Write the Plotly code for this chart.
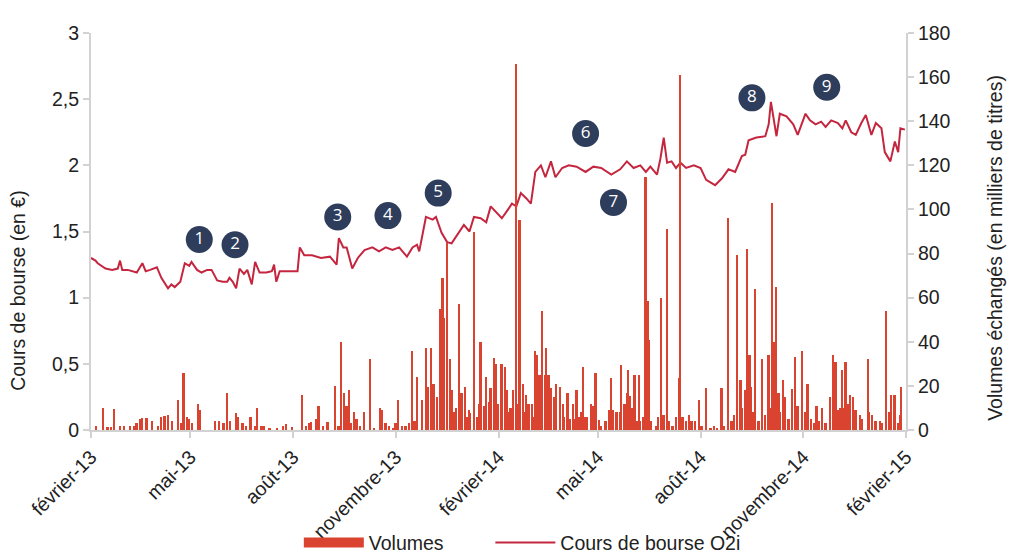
import pandas as pd
import plotly.graph_objects as go

# ---------------- data ----------------
start_date = "2013-02-01"
end_date = "2015-02-01"

# share price (EUR) - day offsets from 1 Feb 2013
price_days = [0, 4, 6, 13, 19, 24, 26, 28, 33, 41,
              46, 49, 53, 59, 63, 69, 72, 75, 80, 84,
              88, 90, 95, 99, 104, 108, 113, 118, 122, 124,
              127, 130, 133, 137, 140, 144, 147, 151, 157, 162,
              164, 166, 169, 178, 185, 187, 191, 198, 206, 214,
              220, 222, 226, 229, 234, 239, 245, 252, 258, 264,
              270, 276, 283, 288, 292, 294, 300, 306, 309, 314,
              319, 323, 328, 334, 339, 343, 349, 354, 358, 364,
              368, 373, 377, 381, 385, 390, 394, 398, 403, 407,
              412, 416, 422, 428, 435, 443, 450, 457, 466, 474,
              480, 486, 492, 497, 501, 507, 510, 513, 516, 520,
              524, 528, 533, 540, 546, 551, 559, 565, 571, 577,
              583, 586, 589, 596, 604, 607, 609, 614, 617, 623,
              629, 633, 640, 644, 649, 654, 658, 663, 669, 673,
              676, 681, 685, 690, 694, 699, 703, 708, 711, 716,
              720, 723, 725, 729]
price_values = [1.30, 1.28, 1.26, 1.22, 1.21, 1.22, 1.28, 1.21, 1.21, 1.19,
                1.26, 1.20, 1.21, 1.23, 1.15, 1.07, 1.10, 1.08, 1.12, 1.26,
                1.24, 1.27, 1.21, 1.19, 1.21, 1.21, 1.13, 1.12, 1.12, 1.15,
                1.12, 1.07, 1.22, 1.18, 1.21, 1.10, 1.27, 1.19, 1.19, 1.20,
                1.25, 1.12, 1.20, 1.20, 1.20, 1.38, 1.32, 1.32, 1.30, 1.31,
                1.25, 1.45, 1.38, 1.38, 1.22, 1.30, 1.36, 1.38, 1.35, 1.38,
                1.36, 1.38, 1.31, 1.38, 1.40, 1.35, 1.61, 1.59, 1.61, 1.49,
                1.42, 1.41, 1.47, 1.55, 1.50, 1.61, 1.60, 1.57, 1.69, 1.64,
                1.60, 1.66, 1.71, 1.69, 1.79, 1.75, 1.71, 1.95, 2.00, 1.91,
                2.03, 1.91, 1.98, 2.00, 1.99, 1.95, 1.99, 1.98, 1.93, 1.97,
                2.03, 1.98, 2.00, 1.95, 1.99, 1.93, 2.05, 2.21, 2.02, 2.03,
                1.98, 2.02, 1.98, 2.00, 1.98, 1.89, 1.85, 1.90, 1.97, 1.95,
                2.07, 2.08, 2.19, 2.21, 2.22, 2.31, 2.48, 2.22, 2.39, 2.37,
                2.31, 2.23, 2.39, 2.34, 2.31, 2.33, 2.29, 2.34, 2.32, 2.28,
                2.34, 2.25, 2.23, 2.32, 2.38, 2.23, 2.32, 2.28, 2.10, 2.03,
                2.18, 2.10, 2.28, 2.27]

# traded volumes (thousands of shares) - day offsets from 1 Feb 2013
volume_days = [5, 11, 15, 18, 21, 26, 30, 35, 39, 41,
               44, 46, 50, 55, 60, 63, 66, 69, 73, 78,
               81, 83, 86, 88, 91, 96, 98, 111, 115, 119,
               122, 125, 130, 132, 136, 139, 143, 147, 149, 153,
               155, 160, 167, 172, 175, 180, 189, 193, 196, 197,
               202, 204, 208, 212, 219, 222, 224, 227, 229, 231,
               233, 236, 238, 241, 245, 250, 254, 259, 261, 264,
               267, 271, 273, 275, 279, 282, 285, 288, 290, 292,
               297, 300, 302, 305, 307, 310, 313, 315, 316, 319,
               322, 323, 325, 327, 330, 332, 335, 337, 339, 340,
               343, 346, 348, 349, 352, 354, 357, 358, 361, 363,
               365, 368, 371, 373, 374, 376, 378, 381, 382, 384,
               387, 389, 390, 392, 395, 397, 398, 400, 402, 404,
               407, 408, 410, 412, 415, 417, 420, 423, 424, 427,
               429, 432, 433, 435, 437, 439, 441, 443, 444, 448,
               450, 452, 455, 457, 461, 464, 466, 468, 471, 474,
               475, 478, 480, 481, 483, 485, 487, 489, 491, 492,
               495, 497, 499, 500, 502, 506, 508, 511, 513, 516,
               518, 521, 524, 527, 528, 530, 533, 536, 538, 541,
               545, 547, 551, 555, 558, 561, 565, 567, 571, 574,
               576, 579, 582, 583, 586, 588, 590, 591, 593, 595,
               598, 601, 604, 607, 608, 610, 612, 614, 616, 617,
               620, 622, 625, 628, 631, 633, 637, 640, 642, 645,
               648, 650, 652, 655, 658, 662, 665, 667, 669, 671,
               673, 675, 676, 678, 680, 683, 685, 689, 691, 696,
               697, 700, 703, 707, 709, 712, 715, 717, 720, 723,
               725, 726]
volume_values = [2, 10, 1.5, 1.5, 9.5, 2, 2, 2, 2, 3,
                 5, 5.5, 5.5, 4, 2, 6, 6.5, 7, 4, 13.6,
                 3, 26, 6, 5, 3, 12, 9, 4, 4, 3,
                 17, 4, 7.5, 6, 3, 2, 6, 2, 10, 2,
                 2, 1, 1, 2, 2.5, 1.5, 16, 2, 3, 3.5,
                 5, 11, 2, 3.5, 20, 2, 40, 17, 11, 18,
                 3, 8, 5, 2, 8, 32, 1, 10, 9, 3,
                 2, 1, 3, 13.6, 2, 2, 3, 36, 4, 24,
                 13.6, 37, 19.5, 37, 21, 15, 55, 69, 51, 85,
                 32, 18, 8, 10, 57, 17, 19.5, 6, 9, 7.5,
                 90, 6, 12, 40, 11, 24, 12.7, 19, 32.6, 30,
                 12, 30, 28.6, 18, 8, 10, 18, 166, 12, 95,
                 21, 8, 16, 12, 12, 6, 36, 34, 25, 54,
                 25, 37, 25, 19, 15, 21, 19.5, 12, 6, 17,
                 5, 12, 5, 18, 6, 8, 28.6, 6, 6, 12,
                 11, 26, 4.5, 2, 4, 9, 23.6, 9, 8, 8,
                 29.5, 12, 17, 27, 15.5, 10, 25, 4, 25, 4,
                 6, 114.5, 58.6, 41, 4, 2, 6, 60, 7, 91,
                 4, 2, 6, 23.6, 161, 6, 4, 7, 4, 4,
                 13.6, 2, 19, 1, 2, 1, 19, 2, 96, 4,
                 7, 79.5, 22.7, 10, 18, 82, 34, 19.5, 8, 64,
                 4, 32, 7, 34, 10, 103, 40, 65, 17, 8,
                 22.7, 15, 5, 18.6, 33, 11, 36, 8, 21, 5,
                 3, 11, 4, 10, 3, 15, 34, 31, 9, 10,
                 27, 10, 31, 12, 16, 15, 9, 7, 5, 32,
                 8, 7, 4, 4, 3, 54, 8, 16, 16, 3,
                 7, 19.5]

# numbered event markers (day offset, price level)
event_labels = ["1", "2", "3", "4", "5", "6", "7", "8", "9"]
event_days = [97, 129, 221, 266, 311, 443, 468, 592, 659]
event_levels = [1.44, 1.40, 1.61, 1.62, 1.79, 2.24, 1.72, 2.51, 2.59]

tick_dates = ["2013-02-01", "2013-05-01", "2013-08-01", "2013-11-01", "2014-02-01",
              "2014-05-01", "2014-08-01", "2014-11-01", "2015-02-01"]
tick_labels = ["février-13", "mai-13", "août-13", "novembre-13", "février-14",
               "mai-14", "août-14", "novembre-14", "février-15"]

# ---------------- styling ----------------
FONT = "Liberation Sans Narrow, Arial Narrow, Liberation Sans, Arial, sans-serif"
LINE_COLOR = "#c4263f"
BAR_COLOR = "#d9432f"
EVENT_COLOR = "#2e3d5b"
AXIS_COLOR = "#d2d2d2"
TXT = "#222222"

t0 = pd.Timestamp(start_date)
price_dates = t0 + pd.to_timedelta(price_days, unit="D")
volume_dates = t0 + pd.to_timedelta(volume_days, unit="D")
event_dates = t0 + pd.to_timedelta(event_days, unit="D")

fig = go.Figure()

# legend-only entry for volumes (wide rectangle look)
fig.add_trace(go.Scatter(x=[None], y=[None], mode="lines", name="Volumes",
                         line=dict(color=BAR_COLOR, width=11), yaxis="y2",
                         legend="legend"))

fig.add_trace(go.Bar(x=volume_dates, y=volume_values, yaxis="y2", name="Volumes",
                     marker=dict(color=BAR_COLOR, line=dict(width=0)),
                     width=1.6 * 86400000, showlegend=False))

fig.add_trace(go.Scatter(x=price_dates, y=price_values, mode="lines",
                         name="Cours de bourse O2i",
                         line=dict(color=LINE_COLOR, width=2), legend="legend2"))

fig.add_trace(go.Scatter(x=event_dates, y=event_levels, mode="markers+text",
                         text=event_labels, textposition="middle center",
                         textfont=dict(family="Open Sans, Liberation Sans, sans-serif",
                                       size=17, color="white"),
                         marker=dict(size=27, color=EVENT_COLOR),
                         showlegend=False, hoverinfo="skip"))

axis_common = dict(showgrid=False, zeroline=False, showline=True, linecolor=AXIS_COLOR,
                   linewidth=2, ticks="outside", ticklen=6, tickcolor=AXIS_COLOR,
                   tickwidth=1.5, tickfont=dict(size=19.5, color=TXT),
                   automargin=False)

legend_common = dict(orientation="h", yref="container", y=0.02, yanchor="middle",
                     xanchor="left", font=dict(size=19.5, color=TXT),
                     itemwidth=60, bgcolor="rgba(0,0,0,0)")

fig.update_layout(
    width=1009, height=554,
    margin=dict(l=91, r=103, t=33, b=124, autoexpand=False),
    paper_bgcolor="white", plot_bgcolor="white",
    separators=", ",
    font=dict(family=FONT, size=19.5, color=TXT),
    bargap=0,
    legend=dict(x=0.255, **legend_common),
    legend2=dict(x=0.49, **legend_common),
    xaxis=dict(type="date", range=[start_date, end_date], tickmode="array",
               tickvals=tick_dates, ticktext=tick_labels, tickangle=-45, **axis_common),
    yaxis=dict(range=[0, 3], dtick=0.5, tick0=0, **axis_common),
    yaxis2=dict(range=[0, 180], dtick=20, tick0=0, overlaying="y", side="right",
                **axis_common),
    annotations=[
        dict(text="Cours de bourse (en €)", xref="paper", yref="paper",
             x=-0.0896, y=0.353, xanchor="center", yanchor="middle",
             textangle=-90, showarrow=False, font=dict(size=19.5, color=TXT)),
        dict(text="Volumes échangés (en milliers de titres)", xref="paper", yref="paper",
             x=1.110, y=0.458, xanchor="center", yanchor="middle",
             textangle=-90, showarrow=False, font=dict(size=19.5, color=TXT)),
    ],
)

fig.write_html(
    "out.html",
    config={"displayModeBar": False},
    post_script="document.body.style.margin='0';document.body.style.overflow='hidden';",
)
